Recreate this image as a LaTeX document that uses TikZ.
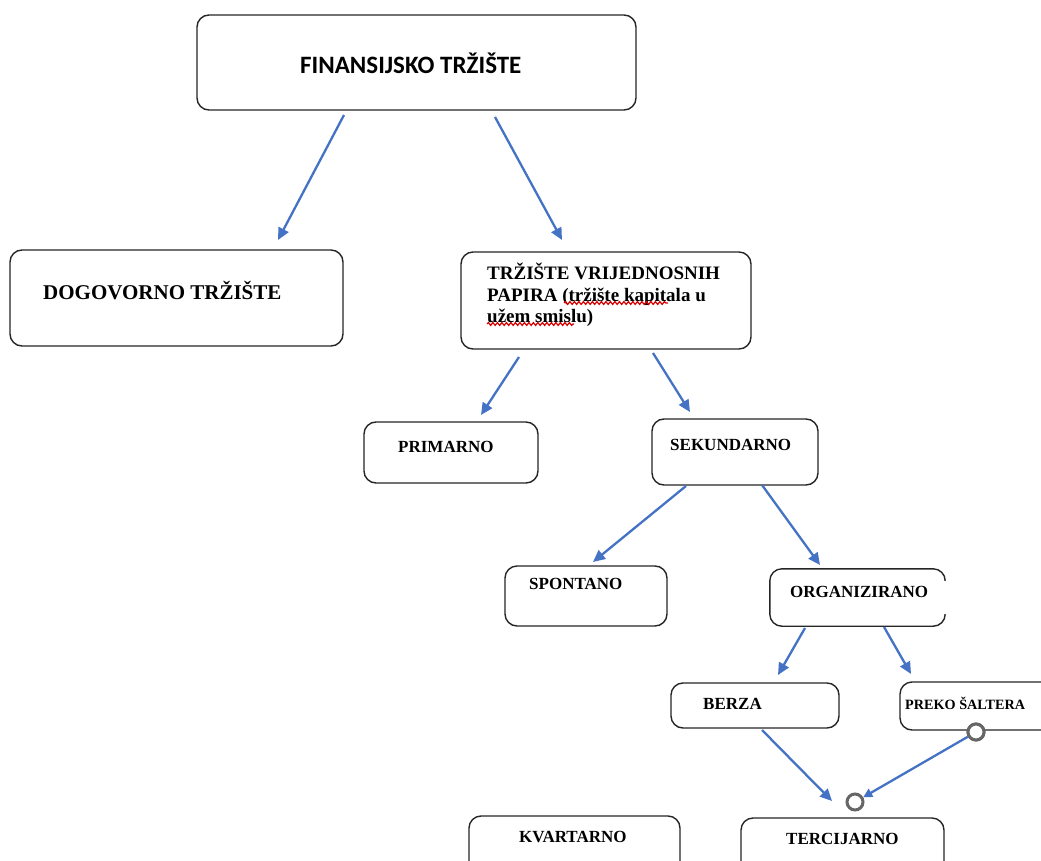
\documentclass[tikz,border=0pt]{standalone}
\usepackage{fontspec}
\setmainfont{Liberation Serif}
\newfontfamily\calib{Carlito}
\usetikzlibrary{arrows.meta,decorations.pathmorphing,calc}
\definecolor{arrblue}{HTML}{4472C4}
\definecolor{ringgray}{HTML}{666666}
\definecolor{boxline}{HTML}{262626}
\tikzset{
 box/.style={draw=boxline, line width=1.4pt, rounded corners=12pt, fill=white, inner sep=0pt},
 arr/.style={draw=arrblue, line width=2.3pt, -{Triangle[length=12pt,width=11pt]}},
 lbl/.style={inner sep=0pt, anchor=west, font=\bfseries\fontsize{17}{19}\selectfont},
 ring/.style={circle, draw=ringgray, line width=3pt, fill=white, minimum size=16pt, inner sep=0pt},
 squig/.style={draw=red!85!black, line width=1.2pt, decorate, decoration={snake, amplitude=1.4pt, segment length=4.5pt}}
}
\begin{document}
\begin{tikzpicture}[x=1pt,y=-1pt]
\useasboundingbox (0,0) rectangle (1041,861);
\fill[white] (0,0) rectangle (1041,861);
\clip (0,0) rectangle (1041,861);
% boxes
\node[box, minimum width=439pt, minimum height=95pt] (fin) at (416.5,62.5) {};
\node[box, minimum width=333pt, minimum height=96pt] (dog) at (176.5,298) {};
\node[box, minimum width=290pt, minimum height=97pt] (tvp) at (606,300.5) {};
\node[box, minimum width=174pt, minimum height=61pt] (pri) at (451,452.5) {};
\node[box, minimum width=166pt, minimum height=66pt] (sek) at (735,452) {};
\node[box, minimum width=162pt, minimum height=60pt] (spo) at (586,596) {};
\node[minimum width=175pt, minimum height=57pt, inner sep=0pt] (org) at (857.5,597.5) {};
\draw[boxline, line width=1.4pt, rounded corners=12pt] ($(org.north east)+(0,12)$) -- (org.north east) -- (org.north west) -- (org.south west) -- (org.south east) -- ($(org.south east)+(0,-12)$);
\node[box, minimum width=168pt, minimum height=45pt] (ber) at (755,705.5) {};
\node[box, minimum width=160pt, minimum height=48pt] (pre) at (980,706) {};
\node[box, minimum width=211pt, minimum height=64pt] (kva) at (574.5,848) {};
\node[box, minimum width=203pt, minimum height=62pt] (ter) at (842.5,849) {};
% labels
\node[lbl, font=\calib\bfseries\fontsize{25}{27}\selectfont] (fin-t) at (300,63) {FINANSIJSKO TRŽIŠTE};
\node[lbl, font=\bfseries\fontsize{21}{23}\selectfont] (dog-t) at (43,291) {DOGOVORNO TRŽIŠTE};
\node[lbl, font=\bfseries\fontsize{19}{21.5}\selectfont, align=left] (tvp-t) at (487,295) {TRŽIŠTE VRIJEDNOSNIH\\PAPIRA (tržište kapitala u\\užem smislu)};
\node[lbl] (pri-t) at (398,447) {PRIMARNO};
\node[lbl] (sek-t) at (670,445) {SEKUNDARNO};
\node[lbl] (spo-t) at (529,584) {SPONTANO};
\node[lbl] (org-t) at (790,592) {ORGANIZIRANO};
\node[lbl] (ber-t) at (703,704) {BERZA};
\node[lbl, font=\bfseries\fontsize{14.2}{16}\selectfont] (pre-t) at (905,703) {PREKO ŠALTERA};
\node[lbl] (kva-t) at (519,837) {KVARTARNO};
\node[lbl] (ter-t) at (786,839) {TERCIJARNO};
% spelling squiggles
\coordinate (sq1a) at (564,303); \coordinate (sq1b) at (668,303);
\coordinate (sq2a) at (487,324); \coordinate (sq2b) at (574,324);
\draw[squig] (sq1a) -- (sq1b);
\draw[squig] (sq2a) -- (sq2b);
% arrow end points
\coordinate (a1s) at (344,115); \coordinate (a1e) at (278,240);
\coordinate (a2s) at (495,117); \coordinate (a2e) at (562,240);
\coordinate (a3s) at (519,357); \coordinate (a3e) at (481,415);
\coordinate (a4s) at (653,353); \coordinate (a4e) at (690,412);
\coordinate (a5s) at (686,486); \coordinate (a5e) at (593,562);
\coordinate (a6s) at (762,485); \coordinate (a6e) at (820,565);
\coordinate (a7s) at (805,628); \coordinate (a7e) at (778,675);
\coordinate (a8s) at (884,627); \coordinate (a8e) at (911,674);
\coordinate (a9s) at (762,730); \coordinate (a9e) at (832,801);
\draw[arr] (a1s) -- (a1e);
\draw[arr] (a2s) -- (a2e);
\draw[arr] (a3s) -- (a3e);
\draw[arr] (a4s) -- (a4e);
\draw[arr] (a5s) -- (a5e);
\draw[arr] (a6s) -- (a6e);
\draw[arr] (a7s) -- (a7e);
\draw[arr] (a8s) -- (a8e);
\draw[arr] (a9s) -- (a9e);
% rings and connector
\node[ring] (r1) at (976,732) {};
\node[ring] (r2) at (855,802) {};
\draw[arr, -{Triangle[length=9pt,width=9pt]}] (r1) -- (r2);
\node[ring] at (976,732) {};
\end{tikzpicture}
\end{document}
